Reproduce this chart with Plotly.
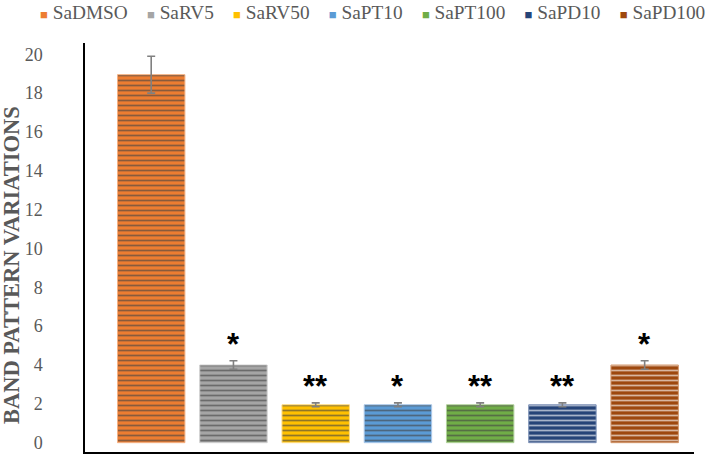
import plotly.graph_objects as go

groups = ["SaDMSO", "SaRV5", "SaRV50", "SaPT10", "SaPT100", "SaPD10", "SaPD100"]
values = [18.95, 4.0, 1.95, 1.95, 1.95, 1.95, 4.0]
errors = [0.95, 0.22, 0.1, 0.1, 0.1, 0.1, 0.22]
stars = ["", "*", "**", "*", "**", "**", "*"]
colors = ["#ED7D31", "#A5A5A5", "#FFC000", "#5B9BD5", "#70AD47", "#264478", "#9E480E"]
edges = ["#F4B183", "#D0D0D0", "#FFDC80", "#A9C8EA", "#B2D39C", "#7F93B8", "#D59A70"]

serif = "Liberation Serif, Times New Roman, serif"
grey_txt = "#595959"

fig = go.Figure(go.Bar(
    x=groups, y=values,
    marker=dict(color=colors, line=dict(color=edges, width=1),
                pattern=dict(shape="-", fgcolor="white", fgopacity=0.6, size=5, solidity=0.35)),
    error_y=dict(type="data", array=errors, color="#808080", thickness=1.6, width=4),
    width=0.82, showlegend=False,
))

# significance marks
for g, v, e, s in zip(groups, values, errors, stars):
    if s:
        fig.add_annotation(x=g, y=v + e, text=s, showarrow=False, yanchor="bottom", yshift=-3,
                           font=dict(family="Liberation Sans", size=31, color="black", weight="bold"))

# legend row drawn as one text line
sq = '<span style="color:%s;font-size:13px">■</span>'
legend_txt = "&nbsp;&nbsp;&nbsp;&nbsp;".join(sq % c + "&nbsp;" + g for g, c in zip(groups, colors))
fig.add_annotation(xref="paper", yref="paper", x=0.4725, y=1.0746, text=legend_txt, showarrow=False,
                   xanchor="center", yanchor="middle", font=dict(family=serif, size=19.3, color=grey_txt))

fig.add_annotation(xref="paper", yref="paper", x=-0.1215, y=0.457, text="BAND PATTERN VARIATIONS",
                   textangle=-90, showarrow=False, xanchor="center", yanchor="middle",
                   font=dict(family=serif, size=22.5, color=grey_txt, weight="bold"))

fig.update_layout(
    width=711, height=457,
    margin=dict(l=85, r=17, t=43, b=5),
    plot_bgcolor="white", paper_bgcolor="white",
    xaxis=dict(range=[-0.805, 6.6], showticklabels=False, showline=True, linecolor="black",
               linewidth=1.5, showgrid=False, zeroline=False, ticks=""),
    yaxis=dict(range=[-0.48, 20.58], tickvals=list(range(0, 21, 2)), showline=True, linecolor="black",
               linewidth=1.5, showgrid=False, zeroline=False, ticks="", ticklabelstandoff=37,
               tickfont=dict(family=serif, size=18, color=grey_txt)),
)

# page body has a default 8px margin; drop it so the figure sits at the window corner
fig.write_html("out.html", config={"displayModeBar": False},
               post_script="document.body.style.margin='0';")
